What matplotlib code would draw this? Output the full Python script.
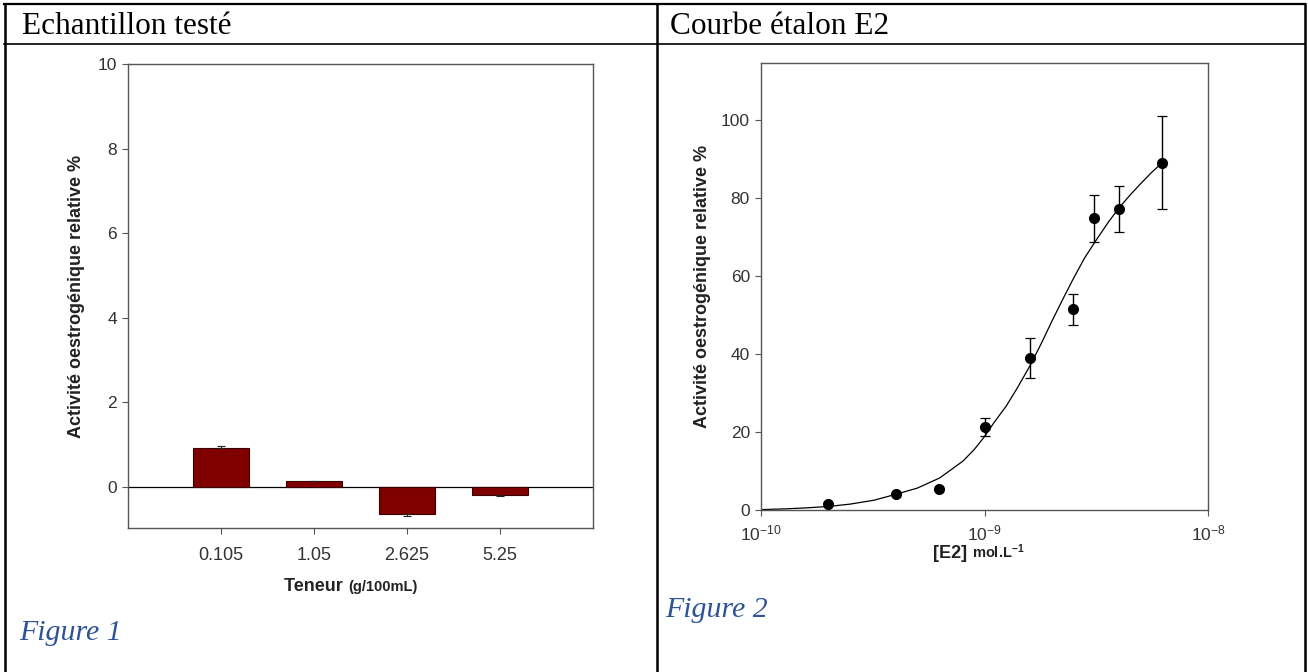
import matplotlib
matplotlib.use("agg")
import numpy as np
import matplotlib.pyplot as plt
from matplotlib.lines import Line2D
from matplotlib.ticker import FixedLocator, FuncFormatter

plt.rcParams["font.family"] = ["Liberation Sans", "DejaVu Sans"]
plt.rcParams["mathtext.fontset"] = "custom"
plt.rcParams["mathtext.rm"] = "Liberation Sans"
plt.rcParams["mathtext.bf"] = "Liberation Sans:bold"
plt.rcParams["mathtext.default"] = "regular"

# --- Figure 1 : échantillon testé ---
teneurs = ["0.105", "1.05", "2.625", "5.25"]
activite = [0.92, 0.13, -0.63, -0.20]
activite_err = [0.04, 0.01, 0.06, 0.01]

# --- Figure 2 : courbe étalon E2 ---
e2_conc = [2e-10, 4e-10, 6.25e-10, 1e-9, 1.6e-9, 2.5e-9, 3.1e-9, 4e-9, 6.25e-9]
e2_act = [1.6, 4.1, 5.3, 21.2, 38.9, 51.4, 74.7, 77.1, 89.0]
e2_err = [0.0, 0.0, 0.0, 2.3, 5.2, 4.0, 6.1, 6.0, 12.0]

# courbe ajustée
fit_conc = [1.0e-10, 1.3e-10, 1.6e-10, 2.0e-10, 2.5e-10, 3.2e-10, 4.0e-10,
            5.0e-10, 6.3e-10, 7.0e-10, 8.0e-10, 9.0e-10, 1.0e-9, 1.1e-9,
            1.25e-9, 1.4e-9, 1.6e-9, 1.8e-9, 2.0e-9, 2.25e-9, 2.5e-9,
            2.8e-9, 3.2e-9, 3.6e-9, 4.0e-9, 4.5e-9, 5.0e-9, 5.6e-9, 6.25e-9]
fit_act = [0.1, 0.3, 0.55, 0.9, 1.5, 2.5, 4.0, 5.6, 8.2, 10.1, 12.5, 15.5,
           18.8, 22.3, 26.6, 31.2, 37.0, 42.8, 48.3, 54.2, 59.3, 64.5,
           69.6, 73.9, 77.4, 80.8, 83.6, 86.5, 89.0]

W, H = 1308, 672
fig = plt.figure(figsize=(W / 100, H / 100), dpi=100)


def px_axes(x0, y0, x1, y1):
    return fig.add_axes([x0 / W, 1 - y1 / H, (x1 - x0) / W, (y1 - y0) / H])


def px_line(xs, ys, lw=1.5):
    fig.add_artist(Line2D([x / W for x in xs], [1 - y / H for y in ys],
                          color="black", lw=lw, transform=fig.transFigure))


# table lines
px_line([4, 1305], [4, 4], lw=1.6)
px_line([4, 1305], [44, 44], lw=1.2)
px_line([5, 5], [4, 672], lw=1.8)
px_line([657, 657], [4, 672], lw=1.8)
px_line([1305, 1305], [4, 672], lw=1.8)

serif = ["Liberation Serif", "DejaVu Serif"]
fig.text(22 / W, 1 - 34 / H, "Echantillon testé", family=serif, fontsize=22.5)
fig.text(670 / W, 1 - 34 / H, "Courbe étalon E2", family=serif, fontsize=22.5)
cap_col = "#2F5496"
fig.text(19 / W, 1 - 640 / H, "Figure 1", family=serif, fontsize=21.5,
         style="italic", color=cap_col)
fig.text(665 / W, 1 - 617 / H, "Figure 2", family=serif, fontsize=21.5,
         style="italic", color=cap_col)

spine_col = "#555555"
txt_col = "#222222"


def style_axes(ax):
    for s in ax.spines.values():
        s.set_color(spine_col)
        s.set_linewidth(1.0)
    ax.tick_params(direction="out", length=4, width=0.8, color=spine_col,
                   labelsize=12.5, labelcolor="#333333", pad=4)


def two_part_label(x, y, big, small, big_size, small_size):
    # axis title made of a bold word followed by a smaller bold unit
    t1 = fig.text(x / W, 1 - y / H, big, fontsize=big_size, fontweight="bold",
                  color=txt_col, ha="right", va="baseline")
    t2 = fig.text(x / W, 1 - y / H, small, fontsize=small_size,
                  fontweight="bold", color=txt_col, ha="left", va="baseline")
    return t1, t2


# ---- left chart
ax1 = px_axes(128, 64, 593, 528)
pos = np.arange(1, len(teneurs) + 1)
ax1.bar(pos, activite, width=0.6, color="#800000", edgecolor="#3a0000",
        linewidth=0.8, zorder=2)
lo = [0 if v >= 0 else e for v, e in zip(activite, activite_err)]
hi = [e if v >= 0 else 0 for v, e in zip(activite, activite_err)]
ax1.errorbar(pos, activite, yerr=[lo, hi], fmt="none", ecolor="#222222",
             elinewidth=0.8, capsize=3, capthick=0.8, zorder=3)
ax1.axhline(0, color="black", lw=0.9, zorder=1)
ax1.set_xlim(0, 5)
ax1.set_ylim(-0.97, 10)
ax1.set_xticks(pos)
ax1.set_xticklabels(teneurs)
ax1.set_yticks([0, 2, 4, 6, 8, 10])
style_axes(ax1)
ax1.tick_params(axis="x", pad=10, labelsize=13)
ax1.set_ylabel("Activité oestrogénique relative %", fontsize=13,
               fontweight="bold", color=txt_col, labelpad=9)
two_part_label(348, 591, "Teneur ", "(g/100mL)", 13, 10.5)

# ---- right chart
ax2 = px_axes(761, 63, 1208, 510)
ax2.plot(fit_conc, fit_act, color="black", lw=0.9, zorder=2)
ax2.errorbar(e2_conc, e2_act, yerr=e2_err, fmt="o", color="black",
             markersize=7, elinewidth=1.0, capsize=3.5, capthick=0.9,
             zorder=3)
ax2.set_xscale("log")
ax2.set_xlim(1e-10, 1e-8)
ax2.set_ylim(0, 114.5)
ax2.xaxis.set_major_locator(FixedLocator([1e-10, 1e-9, 1e-8]))
ax2.xaxis.set_minor_locator(FixedLocator([]))
ax2.xaxis.set_major_formatter(
    FuncFormatter(lambda v, p: "$10^{%d}$" % int(round(np.log10(v)))))
ax2.set_yticks([0, 20, 40, 60, 80, 100])
style_axes(ax2)
ax2.tick_params(axis="x", pad=6)
ax2.set_ylabel("Activité oestrogénique relative %", fontsize=13,
               fontweight="bold", color=txt_col, labelpad=7)
two_part_label(972, 558, "[E2] ", r"mol.L$^{\mathbf{-1}}$", 13, 10.5)

fig.savefig("out.png", dpi=100)
